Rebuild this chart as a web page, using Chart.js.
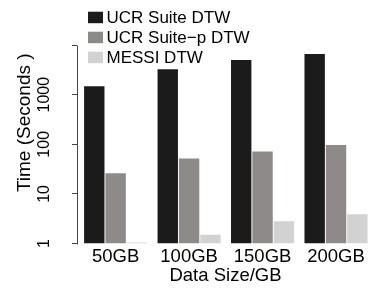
<!DOCTYPE html>
<html>
<head>
<meta charset="utf-8">
<script src="https://cdn.jsdelivr.net/npm/chart.js@4.4.1/dist/chart.umd.min.js"></script>
<style>
  html, body { margin: 0; padding: 0; background: #fff; }
  canvas { display: block; }
</style>
</head>
<body>
<canvas id="Chart" width="374" height="289"></canvas>
<script>
// Data
const sizes = ['50GB', '100GB', '150GB', '200GB'];
const ucrSuite = [1480, 3270, 5000, 6620];
const ucrSuiteP = [26, 52, 72, 97];
const messi = [1.05, 1.5, 2.8, 3.9];
const yTicks = [1, 10, 100, 1000, 10000];
const yTickLabels = ['1', '10', '100', '1000', ''];

const seriesNames = ['UCR Suite DTW', 'UCR Suite\u2212p DTW', 'MESSI DTW'];
const seriesColors = ['#1b1b1b', '#8e8a89', '#d3d2d2'];

Chart.defaults.font.family = "'Liberation Sans', Arial, Helvetica, sans-serif";
Chart.defaults.color = '#000';

function toPoints(values) {
  return values.map((v, i) => ({ x: i, y: v }));
}

// R style legend: small boxes with the label just after them
const legendPlugin = {
  id: 'rLegend',
  afterDraw(chart) {
    const ctx = chart.ctx;
    ctx.save();
    ctx.font = "17px 'Liberation Sans', Arial, sans-serif";
    ctx.textBaseline = 'alphabetic';
    ctx.textAlign = 'left';
    chart.data.datasets.forEach((ds, i) => {
      const base = 23.2 + i * 20;
      ctx.fillStyle = ds.backgroundColor;
      ctx.fillRect(88, base - 11.5, 15, 11.5);
      ctx.fillStyle = '#000';
      ctx.fillText(ds.label, 106.5, base);
    });
    ctx.restore();
  }
};

// y axis line only between the first and last tick, like R's axis()
const axisLinePlugin = {
  id: 'axisLine',
  afterDraw(chart) {
    const y = chart.scales.y;
    const ctx = chart.ctx;
    ctx.save();
    ctx.strokeStyle = '#444';
    ctx.lineWidth = 1;
    ctx.beginPath();
    ctx.moveTo(y.right + 0.5, Math.round(y.getPixelForValue(yTicks[0])) + 0.5);
    ctx.lineTo(y.right + 0.5, Math.round(y.getPixelForValue(yTicks[yTicks.length - 1])) + 0.5);
    ctx.stroke();
    ctx.restore();
  }
};

const data = {
  datasets: [ucrSuite, ucrSuiteP, messi].map((vals, i) => ({
    label: seriesNames[i],
    data: toPoints(vals),
    backgroundColor: seriesColors[i],
    borderWidth: 0,
    categoryPercentage: 0.872,
    barPercentage: 0.955
  }))
};

const config = {
  type: 'bar',
  data,
  options: {
    responsive: false,
    animation: false,
    devicePixelRatio: 1,
    layout: { padding: { left: 0, top: 2, right: -9, bottom: 0 } },
    plugins: {
      legend: { display: false },
      tooltip: { enabled: false }
    },
    scales: {
      x: {
        type: 'linear',
        bounds: 'data',
        offset: false,
        min: -0.526,
        max: 3.517,
        grid: { display: false, drawTicks: false },
        border: { display: false },
        afterBuildTicks(scale) {
          scale.ticks = sizes.map((s, i) => ({ value: i }));
        },
        afterFit(scale) {
          scale.height = 45.5;
          scale.paddingLeft = 0;
          scale.paddingRight = 0;
        },
        ticks: {
          autoSkip: false,
          maxRotation: 0,
          padding: 2.5,
          font: { size: 18.5 },
          callback: (v) => sizes[v]
        },
        title: {
          display: true,
          text: 'Data Size/GB',
          font: { size: 18.5, lineHeight: 1.2 },
          padding: { top: 0, bottom: 1.5 }
        }
      },
      y: {
        type: 'logarithmic',
        min: 1,
        max: 74000,
        grid: { drawOnChartArea: false, drawTicks: true, tickLength: 5, color: '#444' },
        border: { display: false },
        afterBuildTicks(scale) {
          scale.ticks = yTicks.map(v => ({ value: v }));
        },
        afterFit(scale) {
          scale.width = 77;
          scale.paddingTop = 0;
          scale.paddingBottom = 0;
        },
        ticks: {
          autoSkip: false,
          minRotation: 90,
          maxRotation: 90,
          crossAlign: 'center',
          padding: 10,
          font: { size: 16 },
          callback: (v) => yTickLabels[yTicks.indexOf(v)]
        },
        title: {
          display: true,
          text: 'Time (Seconds )',
          font: { size: 19, lineHeight: 1.2 },
          padding: { top: 13.5, bottom: 0 }
        }
      }
    }
  },
  plugins: [legendPlugin, axisLinePlugin]
};

const timeChart = new Chart(document.getElementById('Chart'), config);
</script>
</body>
</html>
